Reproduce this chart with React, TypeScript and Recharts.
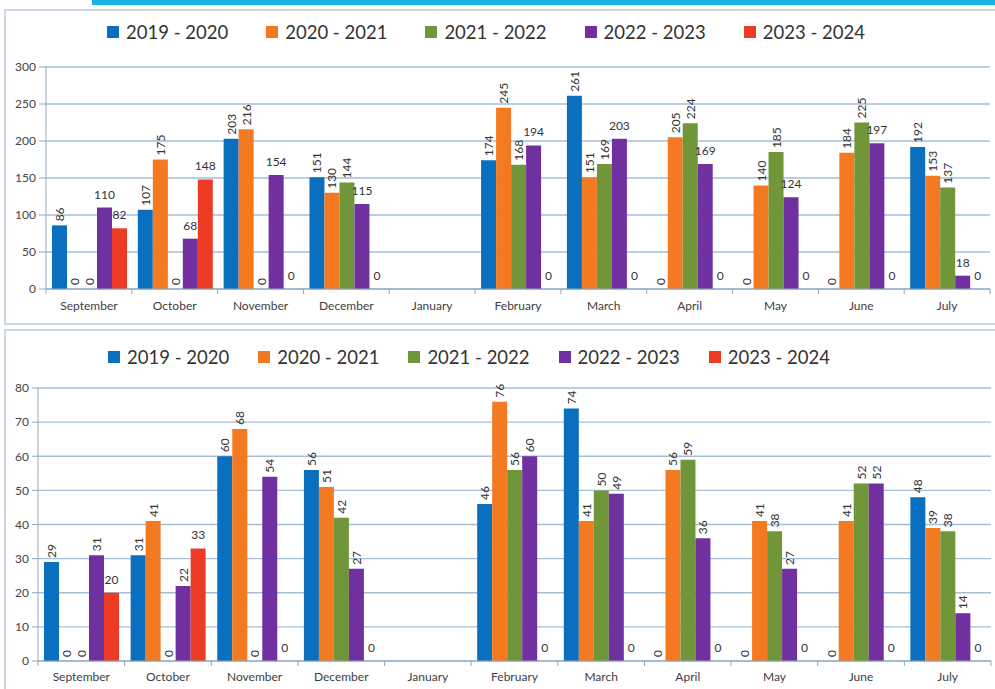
import React from 'react';
import { BarChart, Bar, XAxis, YAxis, CartesianGrid, Legend, LabelList } from 'recharts';

const months = ['September', 'October', 'November', 'December', 'January', 'February', 'March', 'April', 'May', 'June', 'July'];
const seasons = ['2019 - 2020', '2020 - 2021', '2021 - 2022', '2022 - 2023', '2023 - 2024'];
const seasonColors = ['#0B6FBF', '#F37A21', '#71963A', '#7030A0', '#EE3B26'];

// upper chart (0 - 300)
const upper1920 = [86, 107, 203, 151, null, 174, 261, 0, 0, 0, 192];
const upper2021 = [0, 175, 216, 130, null, 245, 151, 205, 140, 184, 153];
const upper2122 = [0, 0, 0, 144, null, 168, 169, 224, 185, 225, 137];
const upper2223 = [110, 68, 154, 115, null, 194, 203, 169, 124, 197, 18];
const upper2324 = [82, 148, 0, 0, null, 0, 0, 0, 0, 0, 0];
const upperTicks = [0, 50, 100, 150, 200, 250, 300];

// lower chart (0 - 80)
const lower1920 = [29, 31, 60, 56, null, 46, 74, 0, 0, 0, 48];
const lower2021 = [0, 41, 68, 51, null, 76, 41, 56, 41, 41, 39];
const lower2122 = [0, 0, 0, 42, null, 56, 50, 59, 38, 52, 38];
const lower2223 = [31, 22, 54, 27, null, 60, 49, 36, 27, 52, 14];
const lower2324 = [20, 33, 0, 0, null, 0, 0, 0, 0, 0, 0];
const lowerTicks = [0, 10, 20, 30, 40, 50, 60, 70, 80];

const FONT = 'Lato, "Open Sans", sans-serif';
const AXIS_COLOR = '#8FA8BF';
const GRID_COLOR = '#A3BFD8';

const buildRows = (series: (number | null)[][]) =>
  months.map((m, i) => {
    const row: any = { month: m };
    series.forEach((s, k) => {
      row[`s${k}`] = s[i];
    });
    return row;
  });

const upperRows = buildRows([upper1920, upper2021, upper2122, upper2223, upper2324]);
const lowerRows = buildRows([lower1920, lower2021, lower2122, lower2223, lower2324]);

// Excel-style value label: rotated above the bar, or flat
const makeLabel = (rotated: boolean) => (props: any) => {
  const { x, y, width, value } = props;
  if (value === null || value === undefined) return null;
  const cx = Number(x) + Number(width) / 2;
  const top = Number(y);
  if (rotated) {
    const ty = top - 4;
    return (
      <text
        x={cx}
        y={ty}
        transform={`rotate(-90 ${cx} ${ty})`}
        textAnchor="start"
        dominantBaseline="central"
        fontSize={12}
        fontFamily={FONT}
        fill="#333"
      >
        {value}
      </text>
    );
  }
  return (
    <text x={cx} y={top - 9} textAnchor="middle" fontSize={12} fontFamily={FONT} fill="#333">
      {value}
    </text>
  );
};

// category label plus tick marks between the bands
const makeTick = (tickMargin: number) => (props: any) => {
  const { x, y, payload, index } = props;
  const half = payload && typeof payload.offset === 'number' ? payload.offset : 0;
  const axisY = y - tickMargin;
  return (
    <g>
      <line x1={x - half} x2={x - half} y1={axisY} y2={axisY + 5} stroke={AXIS_COLOR} />
      {index === months.length - 1 && (
        <line x1={x + half} x2={x + half} y1={axisY} y2={axisY + 5} stroke={AXIS_COLOR} />
      )}
      <text x={x} y={y} dy="0.71em" textAnchor="middle" fontSize={12} fontFamily={FONT} fill="#404040">
        {payload.value}
      </text>
    </g>
  );
};

const LegendRow = ({ payload, gap }: any) => (
  <div style={{ display: 'flex', alignItems: 'center', gap, fontFamily: FONT }}>
    {(payload || []).map((p: any) => (
      <div key={p.value} style={{ display: 'flex', alignItems: 'center' }}>
        <span style={{ width: 12, height: 12, background: p.color, marginRight: 7, display: 'inline-block' }} />
        <span style={{ fontSize: 18.5, color: '#333', lineHeight: '24px' }}>{p.value}</span>
      </div>
    ))}
  </div>
);

interface PanelProps {
  rows: any[];
  ticks: number[];
  height: number;
  margin: { top: number; right: number; left: number; bottom: number };
  yWidth: number;
  yTickSize: number;
  xHeight: number;
  xTickMargin: number;
  rotated: boolean[];
  legendLeft: number;
  legendTop: number;
  legendGap: number;
}

const Panel: React.FC<PanelProps> = ({
  rows, ticks, height, margin, yWidth, yTickSize, xHeight, xTickMargin, rotated, legendLeft, legendTop, legendGap,
}) => (
  <BarChart width={995} height={height} data={rows} margin={margin} barGap={0} barCategoryGap={6}>
    <CartesianGrid vertical={false} stroke={GRID_COLOR} strokeWidth={1.3} />
    <XAxis
      dataKey="month"
      interval={0}
      height={xHeight}
      tickSize={0}
      tickMargin={xTickMargin}
      axisLine={{ stroke: AXIS_COLOR }}
      tickLine={false}
      tick={makeTick(xTickMargin)}
    />
    <YAxis
      domain={[ticks[0], ticks[ticks.length - 1]]}
      ticks={ticks}
      width={yWidth}
      tickSize={yTickSize}
      tickMargin={3}
      axisLine={{ stroke: AXIS_COLOR }}
      tickLine={{ stroke: AXIS_COLOR }}
      tick={{ fontSize: 12, fontFamily: FONT, fill: '#444' }}
    />
    <Legend
      layout="horizontal"
      align="center"
      verticalAlign="middle"
      wrapperStyle={{ left: legendLeft, top: legendTop, width: 900 }}
      content={(p: any) => <LegendRow payload={p.payload} gap={legendGap} />}
    />
    {seasons.map((s, k) => (
      <Bar
        key={s}
        dataKey={`s${k}`}
        name={s}
        fill={seasonColors[k]}
        minPointSize={0.01}
        isAnimationActive={false}
      >
        <LabelList dataKey={`s${k}`} content={makeLabel(rotated[k])} />
      </Bar>
    ))}
  </BarChart>
);

export default function App() {
  return (
    <div
      style={{
        position: 'absolute',
        left: 0,
        top: 0,
        width: 995,
        height: 689,
        overflow: 'hidden',
        background: '#fff',
      }}
    >
      {/* cyan strip above the first panel */}
      <div style={{ position: 'absolute', left: 92, top: 0, width: 910, height: 5, background: '#19B3E3' }} />
      {/* panel frames */}
      <div style={{ position: 'absolute', left: 4, top: 9, width: 1010, height: 312, border: '2px solid #CAD9E5' }} />
      <div style={{ position: 'absolute', left: 4, top: 329, width: 1010, height: 400, border: '2px solid #CAD9E5' }} />

      <div style={{ position: 'absolute', left: 0, top: 0 }}>
        <Panel
          rows={upperRows}
          ticks={upperTicks}
          height={323}
          margin={{ top: 67, right: 5, left: 0, bottom: 4 }}
          yWidth={46}
          yTickSize={7}
          xHeight={30}
          xTickMargin={12}
          rotated={[true, true, true, false, false]}
          legendLeft={107}
          legendTop={20}
          legendGap={38}
        />
      </div>
      <div style={{ position: 'absolute', left: 0, top: 330 }}>
        <Panel
          rows={lowerRows}
          ticks={lowerTicks}
          height={359}
          margin={{ top: 58, right: 4, left: 0, bottom: 0 }}
          yWidth={38}
          yTickSize={6}
          xHeight={28}
          xTickMargin={11}
          rotated={[true, true, true, true, false]}
          legendLeft={108}
          legendTop={15}
          legendGap={29}
        />
      </div>
    </div>
  );
}
